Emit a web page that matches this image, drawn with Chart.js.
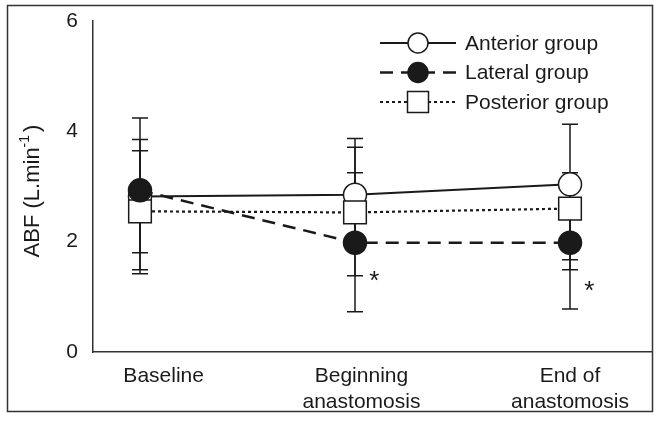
<!DOCTYPE html>
<html>
<head>
<meta charset="utf-8">
<script src="https://cdn.jsdelivr.net/npm/chart.js@4"></script>
<style>
  html,body{margin:0;padding:0;background:#fff}
  #wrap{width:664px;height:423px}
</style>
</head>
<body>
<div id="wrap"><canvas id="c" width="664" height="423"></canvas></div>
<script>
// ── data ──────────────────────────────────────────────
const categories = ['Baseline', ['Beginning','anastomosis'], ['End of','anastomosis']];
const yTicks = [0, 2, 4, 6];

const anteriorMean  = [2.82, 2.85, 3.04];
const anteriorHigh  = [4.24, 3.87, 4.13];
const anteriorLow   = [1.42, 1.83, 1.67];

const lateralMean   = [2.93, 1.98, 1.98];
const lateralHigh   = [3.85, 3.25, 3.25];
const lateralLow    = [1.80, 0.73, 0.78];

const posteriorMean = [2.55, 2.53, 2.60];
const posteriorHigh = [3.65, 3.71, 3.10];
const posteriorLow  = [1.49, 1.38, 1.49];

// lateral group differs from baseline
const significant = [false, true, true];

const FONT = '"Liberation Sans", Arial, Helvetica, sans-serif';
const INK = '#1a1a1a';

const pts = arr => arr.map((v,i)=>({x:i, y:v}));

const groups = [
  {label:'Anterior group',  mean:anteriorMean,  hi:anteriorHigh,  lo:anteriorLow,
   dash:[], width:2, style:'circle', fill:'#fff', radius:11.5, order:2},
  {label:'Lateral group',   mean:lateralMean,   hi:lateralHigh,   lo:lateralLow,
   dash:[13,8], width:2.5, style:'circle', fill:INK, radius:11.5, order:0},
  {label:'Posterior group', mean:posteriorMean, hi:posteriorHigh, lo:posteriorLow,
   dash:[3,3], width:2.2, style:'rect', fill:'#fff', radius:16, order:1},
];

// vertical SD bars with caps, under the markers
const errorBars = {
  id:'errorBars',
  beforeDatasetsDraw(chart){
    const {ctx, scales:{x,y}} = chart;
    ctx.save();
    ctx.strokeStyle = INK; ctx.lineWidth = 1.5; ctx.setLineDash([]);
    groups.forEach(g=>{
      g.mean.forEach((_,i)=>{
        const px = x.getPixelForValue(i);
        const yh = y.getPixelForValue(g.hi[i]), yl = y.getPixelForValue(g.lo[i]);
        ctx.beginPath();
        ctx.moveTo(px, yh); ctx.lineTo(px, yl);
        ctx.moveTo(px-8, yh); ctx.lineTo(px+8, yh);
        ctx.moveTo(px-8, yl); ctx.lineTo(px+8, yl);
        ctx.stroke();
      });
    });
    ctx.restore();
  }
};

// frame, axis title, asterisks and the line+marker legend
const decorations = {
  id:'decorations',
  afterDraw(chart, args, opts){
    const {ctx, scales:{x,y}} = chart;
    ctx.save();
    ctx.strokeStyle = '#333'; ctx.lineWidth = 1.5; ctx.setLineDash([]);
    ctx.strokeRect(7.5, 5.5, 645, 406);

    // y title with superscript
    ctx.translate(opts.titleX, opts.titleY);
    ctx.rotate(-Math.PI/2);
    ctx.fillStyle = INK; ctx.textBaseline = 'middle'; ctx.textAlign = 'left';
    const a = 'ABF (L.min', b = '-1', c = ')';
    ctx.font = '22px ' + FONT; const wa = ctx.measureText(a).width;
    ctx.font = '14px ' + FONT; const wb = ctx.measureText(b).width;
    ctx.font = '22px ' + FONT; const wc = ctx.measureText(c).width;
    let sx = -(wa + wb + wc + 3)/2;
    ctx.fillText(a, sx, 0); sx += wa;
    ctx.font = '14px ' + FONT; ctx.fillText(b, sx, -8); sx += wb + 3;
    ctx.font = '22px ' + FONT; ctx.fillText(c, sx, 0);
    ctx.setTransform(1,0,0,1,0,0);

    // asterisks
    ctx.font = '26px ' + FONT; ctx.textAlign = 'center'; ctx.textBaseline = 'middle';
    significant.forEach((s,i)=>{
      if(!s) return;
      ctx.fillText('*', x.getPixelForValue(i + opts.starDx), y.getPixelForValue(opts.starY[i]) + 4);
    });

    // legend
    const L = opts.legend;
    groups.forEach((g,k)=>{
      const ly = L.y + k*L.gap;
      ctx.strokeStyle = INK; ctx.lineWidth = g.width; ctx.setLineDash(g.dash);
      ctx.beginPath(); ctx.moveTo(L.x0, ly); ctx.lineTo(L.x1, ly); ctx.stroke();
      ctx.setLineDash([]); ctx.lineWidth = 1.5;
      const mx = L.mx;
      ctx.fillStyle = g.fill;
      ctx.beginPath();
      if(g.style === 'rect') ctx.rect(mx-10.5, ly-10.5, 21, 21);
      else ctx.arc(mx, ly, 10, 0, Math.PI*2);
      ctx.fill(); ctx.stroke();
      ctx.fillStyle = INK; ctx.font = '21px ' + FONT;
      ctx.textAlign = 'left'; ctx.textBaseline = 'middle';
      ctx.fillText(g.label, L.tx, ly + 1);
    });
    ctx.restore();
  }
};

new Chart(document.getElementById('c'), {
  type:'line',
  data:{
    datasets: groups.map(g=>({
      label:g.label, data:pts(g.mean), order:g.order,
      borderColor:INK, borderWidth:g.width, borderDash:g.dash,
      pointStyle:g.style, pointRadius:g.radius, pointHoverRadius:g.radius,
      pointBackgroundColor:g.fill, pointBorderColor:INK, pointBorderWidth:1.5,
      fill:false, tension:0
    }))
  },
  options:{
    responsive:false, animation:false, events:[],
    layout:{autoPadding:false, padding:{top:21, right:13, left:0, bottom:0}},
    plugins:{
      legend:{display:false}, tooltip:{enabled:false},
      decorations:{
        titleX:33, titleY:191, starDx:0.09, starY:[null, 1.35, 1.17],
        legend:{x0:380, x1:456, mx:418, tx:465, y:43, gap:29.5}
      }
    },
    scales:{
      x:{
        type:'linear', min:-0.2186, max:2.3767,
        afterBuildTicks(s){ s.ticks = [0.11, 1.03, 2].map(v=>({value:v})); },
        afterFit(s){ s.height = 71; s.paddingLeft = 0; s.paddingRight = 0; },
        ticks:{
          color:INK, font:{family:FONT, size:21}, padding:12, maxRotation:0, autoSkip:false,
          callback:(v,i)=>categories[i]
        },
        grid:{display:false, drawTicks:false},
        border:{color:'#333', width:1.5}
      },
      y:{
        min:0, max:6,
        afterBuildTicks(s){ s.ticks = yTicks.map(v=>({value:v})); },
        afterFit(s){ s.width = 93; s.paddingTop = 0; s.paddingBottom = 0; },
        ticks:{color:INK, font:{family:FONT, size:21}, padding:15},
        grid:{display:false, drawTicks:false},
        border:{color:'#333', width:1.5}
      }
    }
  },
  plugins:[errorBars, decorations]
});
</script>
</body>
</html>
